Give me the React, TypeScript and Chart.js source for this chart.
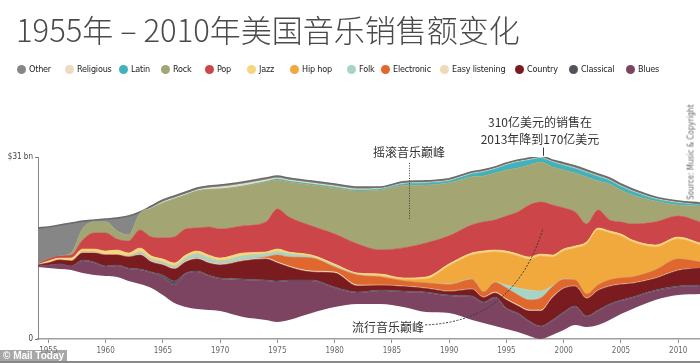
import React, { useEffect, useRef } from "react";
import { Chart, registerables } from "chart.js";

Chart.register(...registerables);

// Sample years (x positions of the stream samples)
const years = [1954.1, 1955, 1956, 1957, 1958, 1959, 1960, 1961, 1962, 1963, 1964, 1965, 1966, 1967, 1968, 1969, 1970, 1972, 1974, 1975, 1976, 1978, 1980, 1982, 1984, 1986, 1988, 1990, 1992, 1993, 1994, 1995, 1996, 1997, 1998, 1999, 2000, 2001, 2002, 2003, 2004, 2005, 2006, 2008, 2010, 2011.9];

// Invisible offset under the stream ($bn)
const baseline = [12.26, 12.09, 11.92, 11.75, 11.24, 10.9, 10.73, 10.56, 9.88, 9.37, 8.69, 7.49, 6.13, 5.45, 5.11, 4.94, 4.77, 3.75, 3.24, 2.9, 3.24, 4.43, 5.45, 5.96, 5.96, 5.45, 4.6, 4.43, 3.24, 2.73, 2.21, 1.7, 1.19, 0.51, 0, 0.68, 1.53, 2.38, 2.04, 2.38, 3.24, 4.26, 5.11, 6.64, 7.49, 7.66];

// Genre sales ($bn), bottom to top of the stream
const blues = [0.26, 0.51, 0.85, 0.68, 2.04, 2.04, 1.53, 1.87, 2.04, 2.38, 2.55, 3.07, 3.07, 5.62, 6.3, 5.79, 5.45, 6.3, 6.64, 6.81, 6.64, 5.45, 3.24, 1.87, 2.21, 2.55, 3.24, 2.9, 3.92, 3.41, 4.77, 3.41, 3.07, 2.38, 2.04, 2.38, 2.9, 3.07, 1.7, 2.38, 2.55, 2.21, 1.87, 1.53, 1.36, 1.36];
const classical = [0, 0, 0, 0, 0.17, 0.17, 0.17, 0.17, 0.17, 0.17, 0.17, 0.34, 0.68, 0.17, 0.17, 0.17, 0.17, 0.17, 0.17, 0.17, 0.17, 0.17, 0.17, 0.17, 0.17, 0.17, 0.17, 0.17, 0.17, 0.17, 0.17, 0.17, 0.17, 0.17, 0.17, 0.17, 0.17, 0.17, 0.17, 0.17, 0.17, 0.17, 0.17, 0.17, 0.17, 0.17];
const country = [0.09, 0.34, 0.68, 0.85, 1.19, 1.53, 1.87, 1.7, 1.87, 2.38, 1.7, 1.7, 2.04, 1.87, 2.04, 2.04, 2.21, 3.07, 3.58, 3.07, 2.21, 1.36, 2.38, 1.02, 0.77, 0.77, 0.6, 0.6, 1.11, 0.77, 0.68, 1.36, 1.19, 1.7, 2.55, 3.75, 4.0, 3.32, 2.98, 3.32, 2.98, 2.64, 2.3, 1.96, 2.64, 2.9];
const easyListening = [0, 0, 0, 0, 0.17, 0.17, 0, 0, 0, 0.17, 0.17, 0.17, 0.17, 0.17, 0.17, 0.17, 0.17, 0.17, 0.17, 0.17, 0.17, 0.17, 0.17, 0.17, 0.09, 0.09, 0.09, 0.09, 0.09, 0.09, 0.17, 0.17, 0.17, 0.17, 0.17, 0.17, 0.09, 0.09, 0.09, 0.09, 0.09, 0.09, 0.09, 0.09, 0.09, 0];
const electronic = [0, 0, 0, 0, 0, 0, 0, 0, 0, 0, 0, 0, 0, 0, 0, 0, 0, 0, 0.17, 1.19, 1.53, 2.21, 0.85, 1.7, 1.36, 0.85, 0.85, 1.11, 1.62, 0.85, 1.62, 1.87, 1.7, 1.7, 2.04, 1.7, 1.45, 1.02, 0.68, 0.85, 1.02, 1.02, 1.02, 1.36, 1.87, 1.02];
const folk = [0, 0, 0, 0, 0, 0, 0, 0, 0.17, 0.34, 0.34, 0.34, 0.34, 0.51, 0.68, 0.68, 0.51, 0.68, 0.51, 0.51, 0.51, 0.17, 0.17, 0.09, 0, 0, 0, 0.09, 0.09, 0, 0.09, 0.51, 1.19, 1.7, 1.19, 0.17, 0.09, 0, 0, 0, 0, 0, 0, 0, 0, 0];
const hipHop = [0, 0, 0, 0, 0, 0, 0, 0, 0, 0, 0, 0, 0, 0, 0, 0, 0, 0, 0, 0, 0, 0, 0, 0, 0.17, 0.26, 0.68, 3.07, 4.09, 6.64, 5.11, 5.45, 5.45, 5.28, 5.96, 4.94, 4.77, 5.45, 8.52, 9.37, 8.01, 7.15, 5.96, 3.92, 3.41, 2.9];
const jazz = [0.09, 0.34, 0.34, 0.51, 0.51, 0.51, 0.68, 0.85, 0.51, 0.68, 0.51, 0.51, 0.51, 0.51, 0.51, 0.51, 0.51, 0.51, 0.34, 0.51, 0.34, 0.34, 0.34, 0.26, 0.34, 0.26, 0.34, 0.34, 0.34, 0.34, 0.34, 0.34, 0.34, 0.34, 0.34, 0.34, 0.34, 0.34, 0.34, 0.34, 0.34, 0.34, 0.34, 0.34, 0.34, 0.34];
const pop = [0.09, 0.34, 0.34, 0.51, 1.53, 2.73, 3.07, 1.87, 2.04, 3.07, 3.24, 3.58, 4.43, 4.43, 3.92, 4.77, 4.94, 4.6, 5.11, 6.81, 5.96, 4.94, 5.11, 4.94, 4.09, 5.11, 5.79, 4.77, 4.77, 4.94, 5.11, 5.96, 7.15, 8.86, 8.86, 8.52, 6.98, 5.79, 3.07, 3.07, 1.87, 2.04, 2.73, 3.92, 3.58, 3.58];
const rock = [0, 0, 0, 0.34, 1.87, 1.87, 1.87, 1.36, 1.02, 2.81, 4.85, 5.96, 6.47, 5.79, 6.3, 6.39, 6.81, 6.73, 6.81, 4.94, 5.96, 6.98, 7.84, 9.03, 10.22, 10.65, 9.88, 9.03, 8.18, 7.84, 8.01, 7.84, 7.49, 6.81, 6.81, 6.47, 6.47, 6.64, 8.01, 4.94, 6.13, 5.45, 4.94, 3.58, 1.87, 2.73];
const latin = [0, 0, 0, 0, 0, 0, 0, 0, 0, 0, 0, 0, 0, 0, 0, 0, 0, 0.09, 0.09, 0.17, 0.17, 0.17, 0.17, 0.17, 0.17, 0.26, 0.34, 0.34, 0.51, 0.68, 0.68, 0.85, 1.02, 0.85, 0.68, 0.85, 0.77, 0.77, 0.77, 0.77, 0.6, 0.6, 0.6, 0.34, 0.34, 0.17];
const religious = [0, 0, 0, 0, 0, 0, 0, 0, 0, 0, 0.09, 0.17, 0.17, 0.17, 0.17, 0.26, 0.34, 0.34, 0.26, 0.17, 0.17, 0.17, 0.17, 0.17, 0.09, 0.09, 0.09, 0.09, 0.09, 0.09, 0.09, 0.09, 0.09, 0.09, 0.09, 0.09, 0.09, 0.09, 0.09, 0.09, 0.09, 0.09, 0.09, 0.09, 0.09, 0];
const other = [6.13, 5.45, 5.28, 5.11, 1.36, 0.34, 0.51, 2.21, 3.24, 0.26, 0.34, 0.34, 0.34, 0.34, 0.34, 0.34, 0.34, 0.34, 0.34, 0.34, 0.34, 0.34, 0.34, 0.34, 0.26, 0.26, 0.26, 0.26, 0.26, 0.26, 0.26, 0.26, 0.26, 0.26, 0.26, 0.26, 0.34, 0.34, 0.34, 0.34, 0.34, 0.34, 0.34, 0.26, 0.26, 0.34];

// Axis ticks
const tickYears = [1955, 1960, 1965, 1970, 1975, 1980, 1985, 1990, 1995, 2000, 2005, 2010];
const yTickValues = [0, 31];
const yTickLabels = ["0", "$31 bn"];

// Annotation anchors (year, $bn)
const rockPeak = { year: 1986.5, top: 30.0, bottom: 20.3 };
const salesPeak = { year: 1998.2, top: 32.6, bottom: 31.2 };
const popPeak = { fromYear: 1987.9, fromValue: 2.4, ctrlYear: 1995.7, ctrlValue: 2.9, toYear: 1998.2, toValue: 18.9 };

const layers = [
  { label: "Blues", values: blues, color: "#7c4460" },
  { label: "Classical", values: classical, color: "#55525c" },
  { label: "Country", values: country, color: "#7a1b1f" },
  { label: "Easy listening", values: easyListening, color: "#efd9b8" },
  { label: "Electronic", values: electronic, color: "#e0672d" },
  { label: "Folk", values: folk, color: "#a8d4c8" },
  { label: "Hip hop", values: hipHop, color: "#f1a93d" },
  { label: "Jazz", values: jazz, color: "#f6d57f" },
  { label: "Pop", values: pop, color: "#cc4548" },
  { label: "Rock", values: rock, color: "#a3a673" },
  { label: "Latin", values: latin, color: "#40b2bd" },
  { label: "Religious", values: religious, color: "#ecdbbd" },
  { label: "Other", values: other, color: "#868686" },
];

const legendX = [22, 70, 124, 166, 210, 252, 295, 352, 386, 445, 520, 574, 631];

const narrowFont = "'DejaVu Sans Condensed', 'Liberation Sans Narrow', 'DejaVu Sans', sans-serif";

const annotationPlugin = {
  id: "streamAnnotations",
  afterDatasetsDraw(chart: any) {
    const { ctx } = chart;
    const x = chart.scales.x;
    const y = chart.scales.y;
    ctx.save();
    ctx.strokeStyle = "#3a3a3a";
    ctx.lineWidth = 1;
    ctx.setLineDash([1, 1.5]);
    const rx = Math.round(x.getPixelForValue(rockPeak.year)) + 0.5;
    ctx.beginPath();
    ctx.moveTo(rx, y.getPixelForValue(rockPeak.top));
    ctx.lineTo(rx, y.getPixelForValue(rockPeak.bottom));
    ctx.stroke();

    ctx.setLineDash([2, 1.5]);
    ctx.beginPath();
    ctx.moveTo(x.getPixelForValue(popPeak.fromYear), y.getPixelForValue(popPeak.fromValue));
    ctx.quadraticCurveTo(
      x.getPixelForValue(popPeak.ctrlYear),
      y.getPixelForValue(popPeak.ctrlValue),
      x.getPixelForValue(popPeak.toYear),
      y.getPixelForValue(popPeak.toValue)
    );
    ctx.stroke();

    ctx.setLineDash([]);
    const sx = Math.round(x.getPixelForValue(salesPeak.year)) + 0.5;
    ctx.beginPath();
    ctx.moveTo(sx, y.getPixelForValue(salesPeak.top));
    ctx.lineTo(sx, y.getPixelForValue(salesPeak.bottom));
    ctx.stroke();
    ctx.restore();
  },
};

export default function App() {
  const canvasRef = useRef<HTMLCanvasElement | null>(null);

  useEffect(() => {
    if (!canvasRef.current) return;
    const mk = (vals: number[]) => years.map((yr, i) => ({ x: yr, y: vals[i] }));
    const datasets: any[] = [
      {
        label: "baseline",
        data: mk(baseline),
        fill: false,
        borderWidth: 0,
        borderColor: "rgba(0,0,0,0)",
        backgroundColor: "rgba(0,0,0,0)",
        pointRadius: 0,
        cubicInterpolationMode: "monotone",
      },
      ...layers.map((l) => ({
        label: l.label,
        data: mk(l.values),
        fill: "-1",
        backgroundColor: l.color,
        borderColor: l.label === "Other" ? "#6b6b6b" : l.color,
        borderWidth: l.label === "Other" ? 1.6 : 0.6,
        pointRadius: 0,
        cubicInterpolationMode: "monotone",
      })),
    ];

    const chart = new Chart(canvasRef.current, {
      type: "line",
      data: { datasets },
      options: {
        animation: false,
        responsive: false,
        devicePixelRatio: 1,
        layout: { padding: { top: 157, right: 0, bottom: 0, left: 0 } },
        plugins: { legend: { display: false }, tooltip: { enabled: false } },
        scales: {
          x: {
            type: "linear",
            min: 1954.1,
            max: 2011.9,
            afterFit: (s: any) => {
              s.height = 24;
            },
            afterBuildTicks: (s: any) => {
              s.ticks = tickYears.map((v) => ({ value: v }));
            },
            grid: { drawOnChartArea: false, drawTicks: true, tickLength: 4, color: "#8f8f8f" },
            border: { display: true, color: "#a0a0a0", width: 1.5 },
            ticks: {
              autoSkip: false,
              maxRotation: 0,
              padding: 3,
              color: "#666",
              font: { family: narrowFont, size: 8 },
              callback: (v: any) => String(v),
            },
          },
          y: {
            stacked: true,
            min: 0,
            max: 31,
            afterFit: (s: any) => {
              s.width = 38;
            },
            afterBuildTicks: (s: any) => {
              s.ticks = yTickValues.map((v) => ({ value: v }));
            },
            grid: { drawOnChartArea: false, drawTicks: true, tickLength: 3, color: "#777" },
            border: { display: true, color: "#888", width: 1 },
            ticks: {
              padding: 2,
              color: "#444",
              font: { family: narrowFont, size: 8 },
              callback: (v: any) => yTickLabels[yTickValues.indexOf(Number(v))],
            },
          },
        },
      },
      plugins: [annotationPlugin],
    } as any);
    return () => chart.destroy();
  }, []);

  const cjk = "'Noto Sans CJK SC', 'Noto Sans', sans-serif";
  const legendItems = [...layers].reverse();

  return (
    <div style={{ position: "absolute", left: 0, top: 0, width: 700, height: 363, overflow: "hidden", background: "#fff" }}>
      <canvas ref={canvasRef} width={700} height={363} style={{ position: "absolute", left: 0, top: 0 }} />
      <div style={{ position: "absolute", left: 16, top: 11, fontFamily: cjk, fontWeight: 300, fontSize: 31, lineHeight: "36px", color: "#4a4a4a", whiteSpace: "nowrap" }}>
        1955年 – 2010年美国音乐销售额变化
      </div>
      {legendItems.map((l, i) => (
        <div key={l.label} style={{ position: "absolute", left: legendX[i] - 5, top: 62, height: 14, display: "flex", alignItems: "center", whiteSpace: "nowrap" }}>
          <span style={{ width: 9, height: 9, borderRadius: "50%", background: l.color, display: "inline-block", marginRight: 3 }} />
          <span style={{ fontFamily: narrowFont, fontStretch: "condensed", fontSize: 9, letterSpacing: -0.2, color: "#222" }}>{l.label}</span>
        </div>
      ))}
      <div style={{ position: "absolute", left: 373, top: 143, fontFamily: cjk, fontSize: 12, lineHeight: "18px", color: "#333", whiteSpace: "nowrap" }}>
        摇滚音乐巅峰
      </div>
      <div style={{ position: "absolute", left: 470, top: 113, width: 140, textAlign: "center", fontFamily: cjk, fontSize: 12, lineHeight: "17px", color: "#333", whiteSpace: "nowrap" }}>
        310亿美元的销售在
        <br />
        2013年降到170亿美元
      </div>
      <div style={{ position: "absolute", left: 352, top: 318, fontFamily: cjk, fontSize: 12, lineHeight: "18px", color: "#333", whiteSpace: "nowrap" }}>
        流行音乐巅峰
      </div>
      <div style={{ position: "absolute", left: 691, top: 152, width: 0, height: 0 }}>
        <div style={{ position: "absolute", left: 0, top: 0, transform: "translate(-50%, -50%) rotate(-90deg)", fontFamily: narrowFont, fontStretch: "condensed", fontSize: 8, color: "#666", whiteSpace: "nowrap" }}>
          Source: Music &amp; Copyright
        </div>
      </div>
      <div style={{ position: "absolute", left: 0, top: 361, width: 700, height: 2, background: "#8a8a8a" }} />
      <div style={{ position: "absolute", left: 0, top: 350, height: 12, padding: "0 3px", background: "rgba(130,130,130,0.7)", fontFamily: "'Liberation Sans', sans-serif", fontWeight: "bold", fontSize: 10, lineHeight: "12px", color: "#fff", whiteSpace: "nowrap" }}>
        © Mail Today
      </div>
    </div>
  );
}
